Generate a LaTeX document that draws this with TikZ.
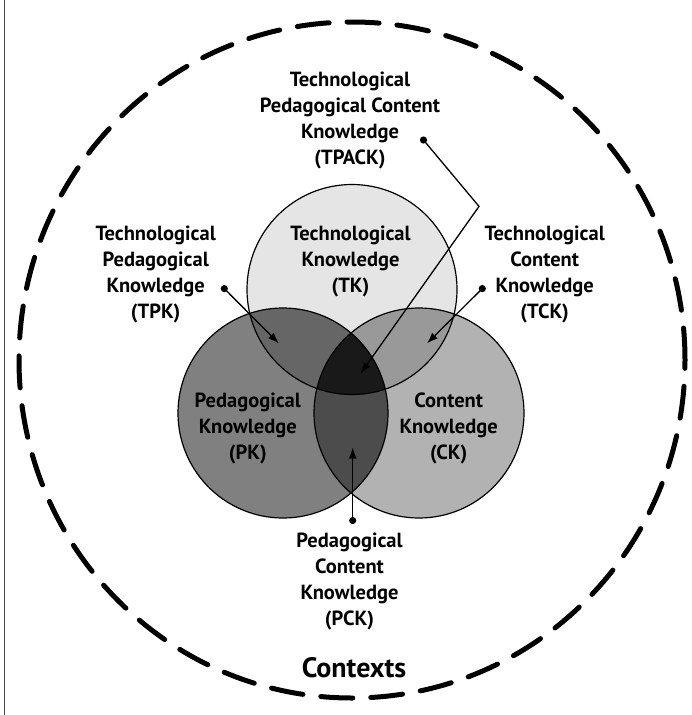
\documentclass[tikz,border=0pt]{standalone}
\usepackage{fontspec}
\setmainfont{PT Sans}
\usetikzlibrary{arrows.meta}

\definecolor{tkgray}{gray}{0.9}
\definecolor{pkgray}{gray}{0.5}
\definecolor{ckgray}{gray}{0.7}
\definecolor{tpkgray}{gray}{0.4}
\definecolor{tckgray}{gray}{0.6}
\definecolor{pckgray}{gray}{0.3}
\definecolor{tpackgray}{gray}{0.1}

\tikzset{
	lbl/.style={align=center,inner sep=0pt,font=\bfseries\fontsize{20.5}{26}\selectfont},
	ring/.style={draw=black,line width=1.2pt},
	pointer/.style={line width=1.3pt,-{Latex[length=11pt,width=8pt]}},
	contexts/.style={line width=5pt,line cap=round,dash pattern=on 32pt off 18pt}
}

\begin{document}
\begin{tikzpicture}[x=1pt,y=-1pt]
	\useasboundingbox (0,0) rectangle (691,715);
	\draw[color=gray!60!black,line width=1.5pt] (4.5,0) -- (4.5,715);

	\coordinate (tk) at (352,289.5);
	\coordinate (pk) at (283,413);
	\coordinate (ck) at (419,413);

	\fill[color=tkgray] (tk) circle (105pt);
	\fill[color=pkgray] (pk) circle (105pt);
	\fill[color=ckgray] (ck) circle (105pt);
	\begin{scope}
		\clip (pk) circle (105pt);
		\fill[color=pckgray] (ck) circle (105pt);
	\end{scope}
	\begin{scope}
		\clip (tk) circle (105pt);
		\fill[color=tpkgray] (pk) circle (105pt);
		\fill[color=tckgray] (ck) circle (105pt);
		\clip (pk) circle (105pt);
		\fill[color=tpackgray] (ck) circle (105pt);
	\end{scope}
	\draw[ring] (tk) circle (105pt);
	\draw[ring] (pk) circle (105pt);
	\draw[ring] (ck) circle (105pt);

	\draw[contexts] (352,360) ellipse [x radius=333pt,y radius=338pt];

	\node[lbl] (tpack) at (350,120.5) {Technological\\Pedagogical Content\\Knowledge\\(TPACK)};
	\node[lbl] (tklbl) at (350.5,261) {Technological\\Knowledge\\(TK)};
	\node[lbl] (tpk) at (155.7,274) {Technological\\Pedagogical\\Knowledge\\(TPK)};
	\node[lbl] (tck) at (544.7,274) {Technological\\Content\\Knowledge\\(TCK)};
	\node[lbl] (pklbl) at (247.8,428.7) {Pedagogical\\Knowledge\\(PK)};
	\node[lbl] (cklbl) at (448.7,428.7) {Content\\Knowledge\\(CK)};
	\node[lbl] (pck) at (349.5,581) {Pedagogical\\Content\\Knowledge\\(PCK)};
	\node[inner sep=0pt,font=\bfseries\fontsize{28}{32}\selectfont] (ctx) at (354,668) {Contexts};

	\coordinate (tpackdot) at (423.5,140);
	\coordinate (tpackbend) at (479,206.4);
	\coordinate (tpacktip) at (360.6,373.5);
	\coordinate (tpkdot) at (224.3,288.6);
	\coordinate (tpktip) at (278.8,343.4);
	\coordinate (tckdot) at (482.3,288.6);
	\coordinate (tcktip) at (427,343.4);
	\coordinate (pckdot) at (352.7,520.5);
	\coordinate (pcktip) at (352.7,447.5);

	\foreach \d in {tpackdot,tpkdot,tckdot,pckdot}
		\fill (\d) circle (3.6pt);
	\draw[pointer] (tpackdot) -- (tpackbend) -- (tpacktip);
	\draw[pointer] (tpkdot) -- (tpktip);
	\draw[pointer] (tckdot) -- (tcktip);
	\draw[pointer] (pckdot) -- (pcktip);
\end{tikzpicture}
\end{document}
